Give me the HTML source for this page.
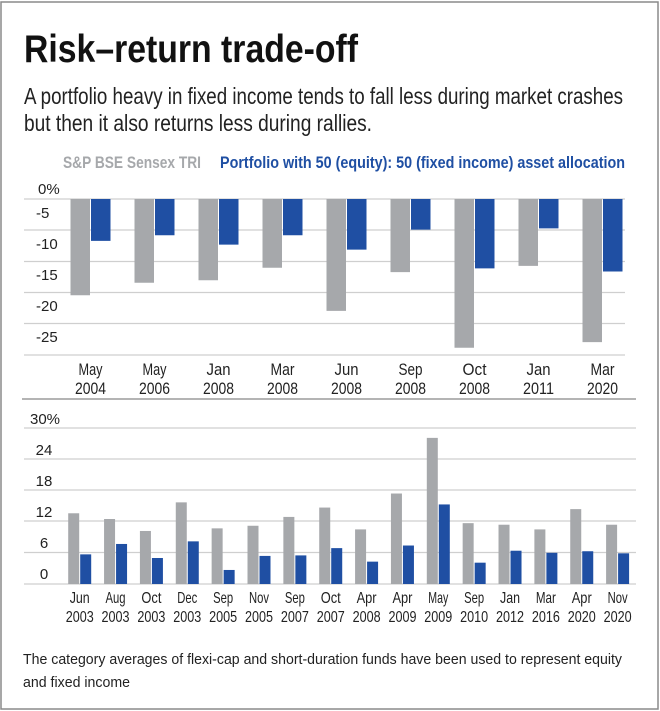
<!DOCTYPE html>
<html><head><meta charset="utf-8"><style>
body{margin:0;background:#fff}
svg{display:block}
text{font-family:"Liberation Sans",sans-serif}
</style></head><body>
<svg width="660" height="711" viewBox="0 0 660 711" xmlns="http://www.w3.org/2000/svg">
<rect x="1" y="2" width="657" height="707" fill="#fff" stroke="#8a8a8a" stroke-width="1.5"/>
<text x="24" y="62" font-size="39" font-weight="bold" fill="#111" textLength="334" lengthAdjust="spacingAndGlyphs">Risk–return trade-off</text>
<text x="24" y="104" font-size="23" fill="#222" textLength="599" lengthAdjust="spacingAndGlyphs">A portfolio heavy in fixed income tends to fall less during market crashes</text>
<text x="24" y="131" font-size="23" fill="#222" textLength="348" lengthAdjust="spacingAndGlyphs">but then it also returns less during rallies.</text>
<text x="63" y="168" font-size="17" font-weight="bold" fill="#a6a8ab" textLength="138" lengthAdjust="spacingAndGlyphs">S&amp;P BSE Sensex TRI</text>
<text x="220" y="168" font-size="17" font-weight="bold" fill="#1f4fa3" textLength="405" lengthAdjust="spacingAndGlyphs">Portfolio with 50 (equity): 50 (fixed income) asset allocation</text>
<g stroke="#cfcfcf" stroke-width="1.3">
<line x1="24" y1="199" x2="625" y2="199"/><line x1="24" y1="230" x2="625" y2="230"/><line x1="24" y1="261.5" x2="625" y2="261.5"/><line x1="24" y1="292.5" x2="625" y2="292.5"/><line x1="24" y1="323.5" x2="625" y2="323.5"/><line x1="24" y1="355" x2="625" y2="355"/>
<line x1="24" y1="428" x2="636" y2="428"/><line x1="24" y1="459" x2="636" y2="459"/><line x1="24" y1="490" x2="636" y2="490"/><line x1="24" y1="521" x2="636" y2="521"/><line x1="24" y1="552.5" x2="636" y2="552.5"/><line x1="24" y1="584" x2="636" y2="584"/>
</g>
<line x1="22" y1="399" x2="636" y2="399" stroke="#888" stroke-width="1.2"/>
<g font-size="15" fill="#222">
<text x="38" y="194">0%</text><text x="36" y="218">-5</text><text x="36" y="249">-10</text><text x="36" y="280">-15</text><text x="36" y="311">-20</text><text x="36" y="342">-25</text>
</g>
<g font-size="15" fill="#222" text-anchor="middle">
<text x="45" y="424">30%</text><text x="44" y="455">24</text><text x="44" y="486">18</text><text x="44" y="517">12</text><text x="44" y="548">6</text><text x="44" y="579">0</text>
</g>
<g id="topg"></g><g id="botg"></g>
<text x="23" y="664" font-size="15" fill="#222" textLength="599" lengthAdjust="spacingAndGlyphs">The category averages of flexi-cap and short-duration funds have been used to represent equity</text>
<text x="23" y="687" font-size="15" fill="#222" textLength="107" lengthAdjust="spacingAndGlyphs">and fixed income</text>
<script>
(function(){
var ns="http://www.w3.org/2000/svg";
function el(p,t,a,txt){var e=document.createElementNS(ns,t);for(var k in a)e.setAttribute(k,a[k]);if(txt)e.textContent=txt;p.appendChild(e);}
var G="#a6a8ab",B="#1f4fa3";
var tp=document.getElementById("topg");
var tg=[-15.4,-13.4,-13,-11,-17.9,-11.7,-23.8,-10.7,-22.9];
var tb=[-6.7,-5.8,-7.3,-5.8,-8.1,-4.9,-11.1,-4.7,-11.6];
var tl=[["May","2004"],["May","2006"],["Jan","2008"],["Mar","2008"],["Jun","2008"],["Sep","2008"],["Oct","2008"],["Jan","2011"],["Mar","2020"]];
for(var i=0;i<9;i++){var x=70.5+i*64;
el(tp,"rect",{x:x,y:199,width:19.5,height:-tg[i]*6.25,fill:G});
el(tp,"rect",{x:x+20.5,y:199,width:19.5,height:-tb[i]*6.25,fill:B});
el(tp,"text",{x:x+20,y:375,"font-size":17,"text-anchor":"middle",fill:"#222",textLength:24,lengthAdjust:"spacingAndGlyphs"},tl[i][0]);
el(tp,"text",{x:x+20,y:394,"font-size":17,"text-anchor":"middle",fill:"#222",textLength:31,lengthAdjust:"spacingAndGlyphs"},tl[i][1]);}
var bt=document.getElementById("botg");
var bg=[13.6,12.5,10.2,15.7,10.7,11.2,12.9,14.7,10.5,17.4,28.1,11.7,11.4,10.5,14.4,11.4];
var bb=[5.7,7.7,5.0,8.2,2.7,5.4,5.5,6.9,4.3,7.4,15.3,4.1,6.4,6.0,6.3,5.9];
var bl=[["Jun","2003"],["Aug","2003"],["Oct","2003"],["Dec","2003"],["Sep","2005"],["Nov","2005"],["Sep","2007"],["Oct","2007"],["Apr","2008"],["Apr","2009"],["May","2009"],["Sep","2010"],["Jan","2012"],["Mar","2016"],["Apr","2020"],["Nov","2020"]];
for(var i=0;i<16;i++){var x=68.2+i*35.86;
el(bt,"rect",{x:x,y:584-bg[i]*5.2,width:11,height:bg[i]*5.2,fill:G});
el(bt,"rect",{x:x+12,y:584-bb[i]*5.2,width:11,height:bb[i]*5.2,fill:B});
el(bt,"text",{x:x+11.5,y:603,"font-size":16,"text-anchor":"middle",fill:"#222",textLength:20,lengthAdjust:"spacingAndGlyphs"},bl[i][0]);
el(bt,"text",{x:x+11.5,y:622,"font-size":16,"text-anchor":"middle",fill:"#222",textLength:28,lengthAdjust:"spacingAndGlyphs"},bl[i][1]);}
})();
</script>
</svg>
</body></html>
